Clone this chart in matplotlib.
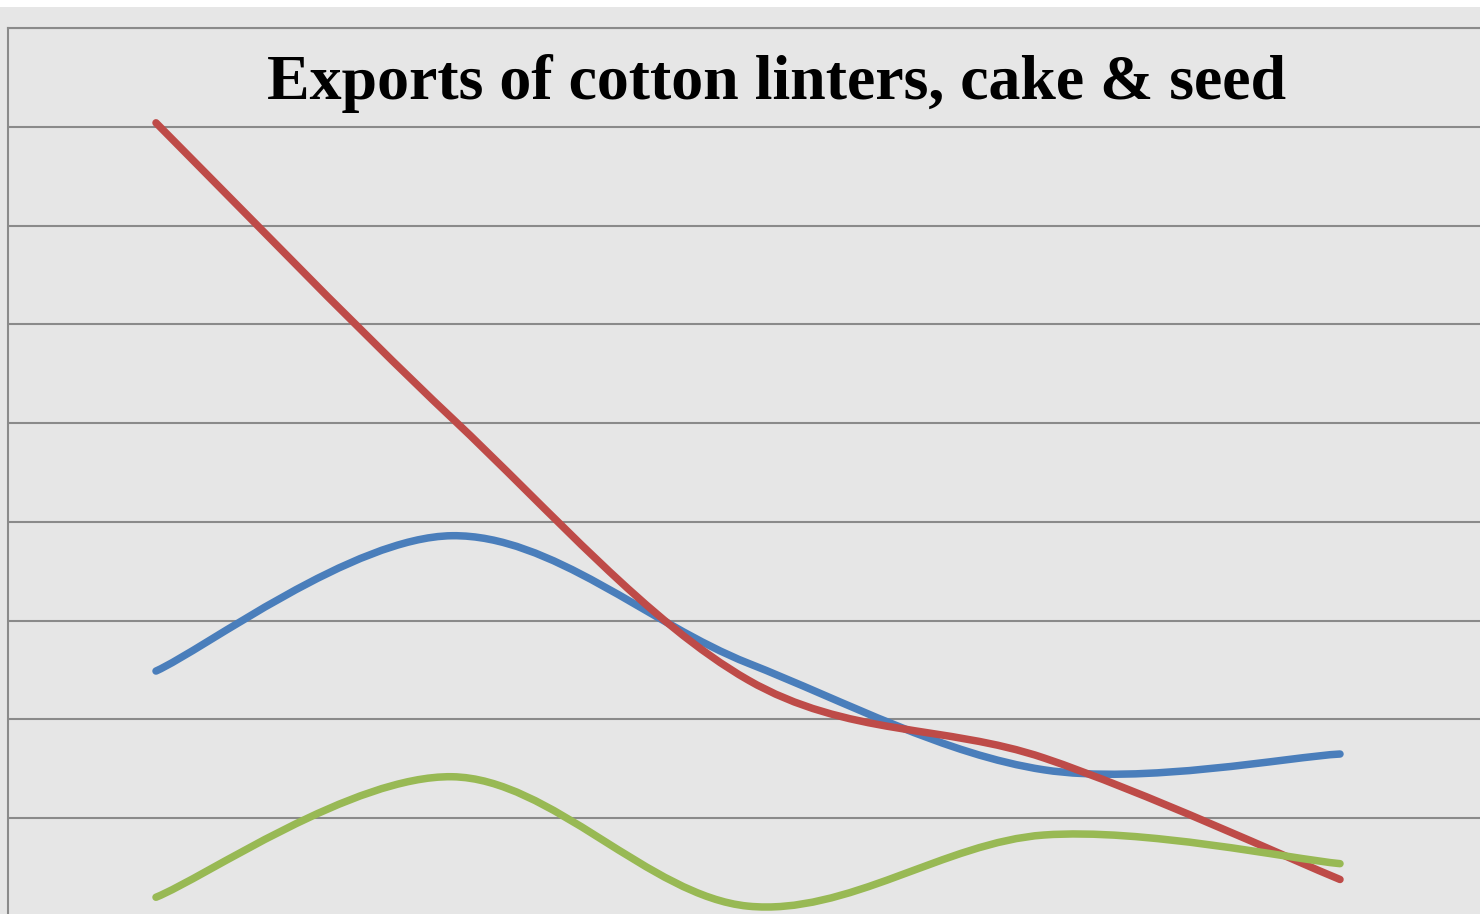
import numpy as np
import matplotlib.pyplot as plt
from matplotlib.path import Path
from matplotlib.patches import PathPatch, Rectangle

# values (gridline step = 1 unit, axis 0..9)
periods = ['1', '2', '3', '4', '5']
linters = [2.49, 3.86, 2.57, 1.49, 1.65]   # blue
cake = [8.04, 5.05, 2.40, 1.61, 0.38]      # red
seed = [0.20, 1.42, 0.11, 0.83, 0.54]      # green

colors = {'linters': '#4a7ebb', 'cake': '#be4b48', 'seed': '#98b954'}


def smooth_path(x, y, t=1 / 6):
    # Excel-like smoothed line: cubic Bezier through every point
    pts = np.column_stack([x, y])
    n = len(pts)
    verts = [pts[0]]
    codes = [Path.MOVETO]
    for i in range(n - 1):
        p0 = pts[max(i - 1, 0)]
        p1 = pts[i]
        p2 = pts[i + 1]
        p3 = pts[min(i + 2, n - 1)]
        verts += [p1 + (p2 - p0) * t, p2 - (p3 - p1) * t, p2]
        codes += [Path.CURVE4] * 3
    return Path(verts, codes)


fig = plt.figure(figsize=(14.8, 9.14), dpi=100, facecolor='#e6e6e6')

# white strip at the very top of the picture
fig.patches.append(Rectangle((0, 1 - 7 / 914), 1, 7 / 914, transform=fig.transFigure,
                             facecolor='white', edgecolor='none', zorder=0))

ax = fig.add_axes([8 / 1480, -3 / 914, 1.0, 889 / 914])
ax.set_facecolor('#e6e6e6')
ax.set_xlim(0, len(periods))
ax.set_ylim(0, 9)
ax.set_yticks(np.arange(0, 10))
ax.set_xticks([])
ax.tick_params(left=False, labelleft=False)
ax.grid(axis='y', color='#8a8a8a', linewidth=1.5)
ax.set_axisbelow(True)
for side in ['right', 'bottom']:
    ax.spines[side].set_visible(False)
for side in ['left', 'top']:
    ax.spines[side].set_color('#8a8a8a')
    ax.spines[side].set_linewidth(1.5)

x = np.arange(len(periods)) + 0.5
for name, vals, z in [('linters', linters, 3), ('cake', cake, 4), ('seed', seed, 5)]:
    patch = PathPatch(smooth_path(x, vals), fill=False, edgecolor=colors[name],
                      linewidth=5.4, capstyle='round', joinstyle='round', zorder=z)
    ax.add_patch(patch)

fig.text(777 / 1480, 1 - 99 / 914, 'Exports of cotton linters, cake & seed',
         fontfamily='Liberation Serif', fontweight='bold', fontsize=46,
         ha='center', va='baseline')

fig.savefig('out.png', dpi=100, facecolor=fig.get_facecolor())
